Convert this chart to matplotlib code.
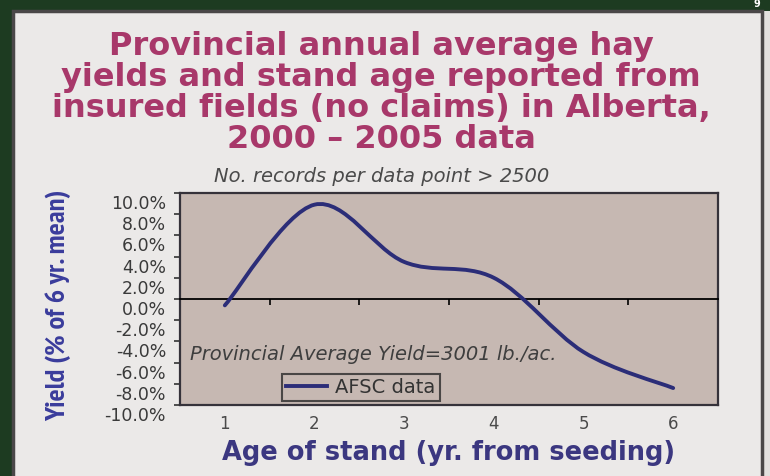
import numpy as np
import matplotlib
matplotlib.use("Agg")
import matplotlib.pyplot as plt
from matplotlib.path import Path
from matplotlib.patches import PathPatch, Rectangle
from matplotlib.lines import Line2D
import matplotlib.transforms as mtransforms

# data
ages = [1, 2, 3, 4, 5, 6]
yield_pct = [-0.6, 8.9, 3.5, 2.0, -5.0, -8.4]
y_ticks = [10, 8, 6, 4, 2, 0, -2, -4, -6, -8, -10]
title_lines = ["Provincial annual average hay",
               "yields and stand age reported from",
               "insured fields (no claims) in Alberta,",
               "2000 \u2013 2005 data"]

W, H = 770, 476
fig = plt.figure(figsize=(W / 100, H / 100), dpi=100)
fig.patch.set_facecolor("#1d3b21")

# paper panel
fig.patches.append(Rectangle((764 / W, 0), 6 / W, 1 - 11 / H, transform=fig.transFigure,
                             facecolor="#e2e0de", edgecolor="none", zorder=-2))
fig.patches.append(Rectangle((13 / W, -0.01), 749 / W, 1 - 11 / H + 0.01, transform=fig.transFigure,
                             facecolor="#ebe9e8", edgecolor="#4a4748", lw=2.5, zorder=-1))

title_col = "#a8386a"
for i, line in enumerate(title_lines):
    fig.text(381 / W, 1 - (55 + 31 * i) / H, line, ha="center", va="baseline",
             fontsize=23, fontweight="bold", family="DejaVu Sans", color=title_col)

fig.text(382 / W, 1 - 182 / H, "No. records per data point > 2500", ha="center", va="baseline",
         fontsize=14, style="italic", color="#4a4a4a", family="DejaVu Sans")

ax = fig.add_axes([180 / W, 1 - 405 / H, 538 / W, 212 / H])
ax.set_facecolor("#c6b8b2")
ax.set_xlim(0.5, 6.5)
ax.set_ylim(-10, 10)

# smoothed line (Excel style bezier through the points)
pts = np.column_stack([ages, yield_pct]).astype(float)
n = len(pts)
verts = [pts[0]]
codes = [Path.MOVETO]
for i in range(n - 1):
    p0 = pts[i - 1] if i > 0 else pts[i]
    p1, p2 = pts[i], pts[i + 1]
    p3 = pts[i + 2] if i + 2 < n else pts[i + 1]
    verts += [p1 + (p2 - p0) / 6, p2 - (p3 - p1) / 6, p2]
    codes += [Path.CURVE4] * 3
ax.add_patch(PathPatch(Path(verts, codes), fill=False, edgecolor="#2b2d78", lw=2.8,
                       capstyle="round", zorder=3))

# y axis
ax.set_yticks(y_ticks)
ax.set_yticklabels([f"{v:.1f}%" for v in y_ticks])
ax.tick_params(axis="y", direction="out", length=4, width=1.2, pad=6,
               labelsize=12.5, colors="#333333")
ax.tick_params(axis="y", labelcolor="#3a3a3a")
shift = mtransforms.ScaledTranslation(0, -9 / 100, fig.dpi_scale_trans)
for lab in ax.get_yticklabels():
    lab.set_transform(lab.get_transform() + shift)

# category axis crosses at zero: tick marks between categories on the zero line
ax.spines["bottom"].set_position(("data", 0))
ax.spines["bottom"].set_color("black")
ax.spines["bottom"].set_linewidth(1.3)
ax.set_xticks([a + 0.5 for a in ages[:-1]])
ax.tick_params(axis="x", direction="out", length=4, width=1.2, colors="black",
               labelbottom=False)

# labels low, at the bottom edge of the plot area
low = ax.secondary_xaxis("bottom")
low.set_xticks(ages)
low.tick_params(length=0, pad=7, labelsize=12, labelcolor="#4a4a4a")
low.spines["bottom"].set_linewidth(1.6)
low.spines["bottom"].set_color("#35323a")

for k in ["left", "top", "right"]:
    ax.spines[k].set_linewidth(1.6)
    ax.spines[k].set_color("#35323a")

ax.text(10 / 538, 45 / 212, "Provincial Average Yield=3001 lb./ac.", transform=ax.transAxes,
        fontsize=14, style="italic", color="#3e3e3e", va="baseline")

leg = ax.legend([Line2D([], [], color="#2b2d78", lw=2.8)], ["AFSC data"],
                loc="upper left", bbox_to_anchor=(102 / 538, 31 / 212), borderaxespad=0,
                fancybox=False, frameon=True, fontsize=14, handlelength=2.1,
                borderpad=0.2, handletextpad=0.45)
leg.get_frame().set_facecolor("none")
leg.get_frame().set_edgecolor("#2a2a2a")
leg.get_frame().set_linewidth(1.5)
for t in leg.get_texts():
    t.set_color("#333333")

low.set_xlabel("Age of stand (yr. from seeding)", fontsize=18.5, fontweight="bold",
               family="DejaVu Sans", color="#3b3780", labelpad=5)
fig.text(58 / W, 1 - 305 / H, "Yield (% of 6 yr. mean)", rotation=90, ha="center", va="center",
         fontsize=20.5, fontweight="bold", family="PT Sans Narrow", color="#3a3c9c")

fig.text(757 / W, 1 - 4 / H, "9", ha="center", va="center", fontsize=7,
         fontweight="bold", color="white")

fig.savefig("out.png", dpi=100, facecolor=fig.get_facecolor())
